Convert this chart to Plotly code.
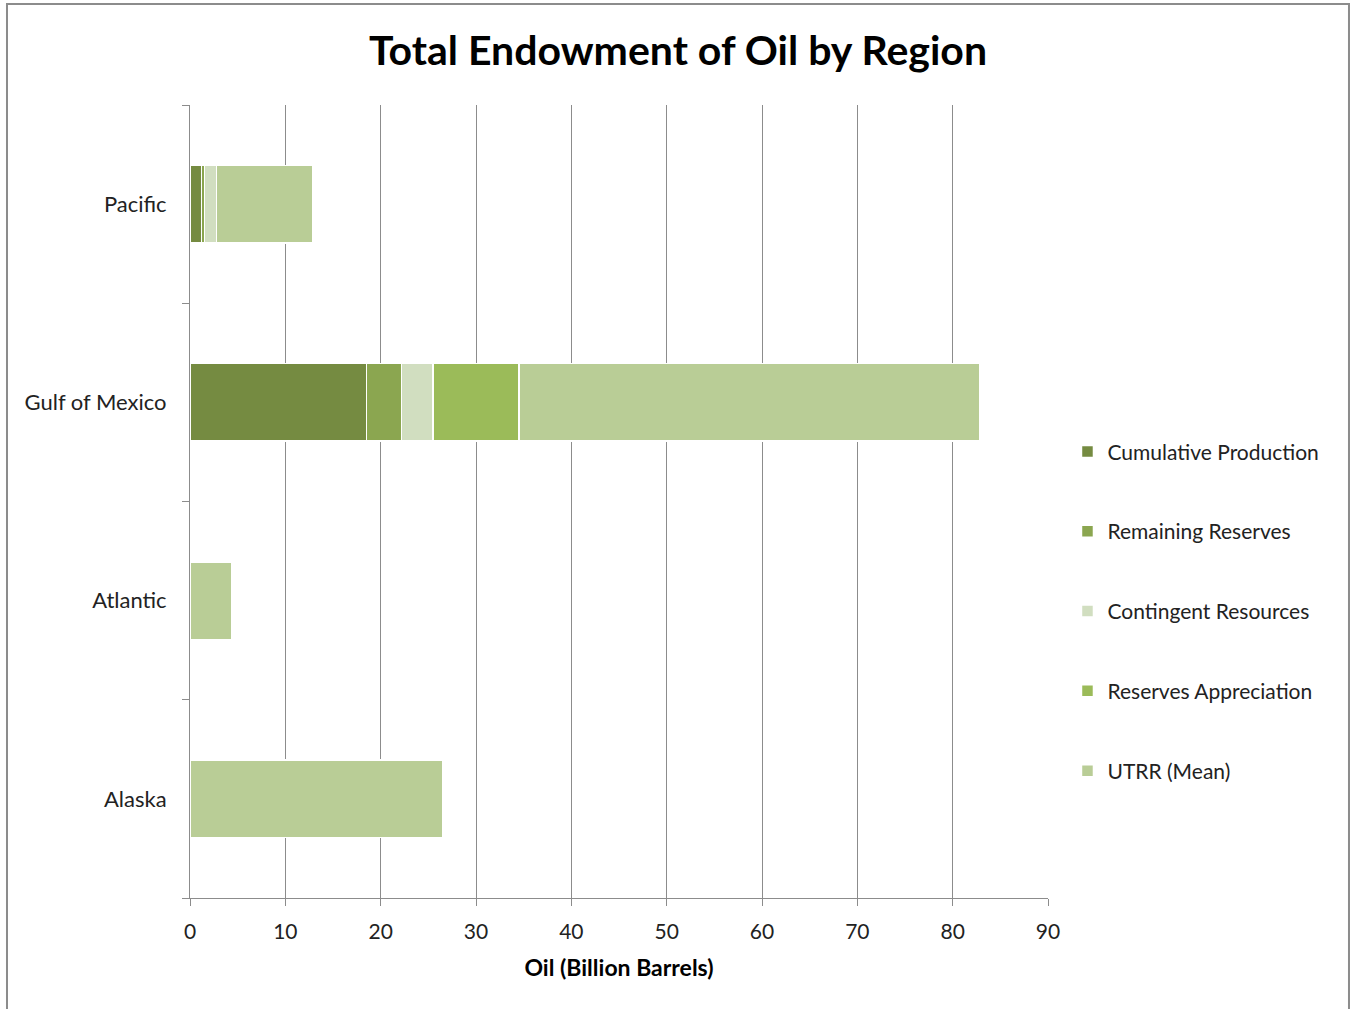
import plotly.graph_objects as go

# Regions, top to bottom
regions = ["Pacific", "Gulf of Mexico", "Atlantic", "Alaska"]

# Oil endowment components (billion barrels)
cumulative_production = [1.2, 18.5, 0, 0]
remaining_reserves = [0.3, 3.7, 0, 0]
contingent_resources = [1.3, 3.3, 0, 0]
reserves_appreciation = [0, 9.0, 0, 0]
utrr_mean = [10.1, 48.3, 4.4, 26.5]

series = [
    ("Cumulative Production", cumulative_production, "#758B41"),
    ("Remaining Reserves", remaining_reserves, "#8BA650"),
    ("Contingent Resources", contingent_resources, "#D1DEC0"),
    ("Reserves Appreciation", reserves_appreciation, "#9BBB59"),
    ("UTRR (Mean)", utrr_mean, "#B9CD96"),
]

x_ticks = list(range(0, 91, 10))

FONT = "Lato"

fig = go.Figure()
for name, vals, color in series:
    fig.add_trace(go.Bar(
        y=regions, x=vals, name=name, orientation="h",
        marker=dict(color=color, line=dict(color="white", width=1.5)),
        legendgroup=name, width=0.39,
    ))

fig.update_layout(
    barmode="stack",
    width=1356, height=1009,
    margin=dict(l=190, r=308, t=105, b=111),
    paper_bgcolor="white", plot_bgcolor="white",
    font=dict(family=FONT, size=20, color="#222222"),
    title=dict(text="<b>Total Endowment of Oil by Region</b>",
               x=0.5, xanchor="center", y=0.95, yanchor="middle",
               font=dict(family=FONT, size=41, color="black")),
    legend=dict(x=1.0227, xanchor="left", y=0.5885, yanchor="top",
                traceorder="grouped", tracegroupgap=49.5,
                font=dict(family=FONT, size=21, color="#222222"),
                itemwidth=30),
    showlegend=True,
    xaxis=dict(range=[0, 90], tickvals=x_ticks, showgrid=True,
               gridcolor="#8C8C8C", gridwidth=1,
               showline=True, linecolor="#8C8C8C", linewidth=1,
               ticks="outside", ticklen=7, tickcolor="#8C8C8C",
               zeroline=False, ticklabelstandoff=8,
               tickfont=dict(family=FONT, size=21, color="#222222"),
               title=dict(text="<b>Oil (Billion Barrels)</b>", standoff=17,
                          font=dict(family=FONT, size=23, color="black"))),
    yaxis=dict(type="category", categoryorder="array",
               categoryarray=regions[::-1],
               showline=True, linecolor="#8C8C8C", linewidth=1,
               ticks="outside", ticklen=7, tickcolor="#8C8C8C",
               tickson="boundaries", showgrid=False,
               ticklabelstandoff=18,
               tickfont=dict(family=FONT, size=22, color="#222222")),
    shapes=[dict(type="rect", xref="paper", yref="paper",
                 x0=-0.2133, x1=1.3508, y0=-0.15, y1=1.1274,
                 line=dict(color="#8C8C8C", width=2), layer="below")],
)

fig.write_html("out.html")
